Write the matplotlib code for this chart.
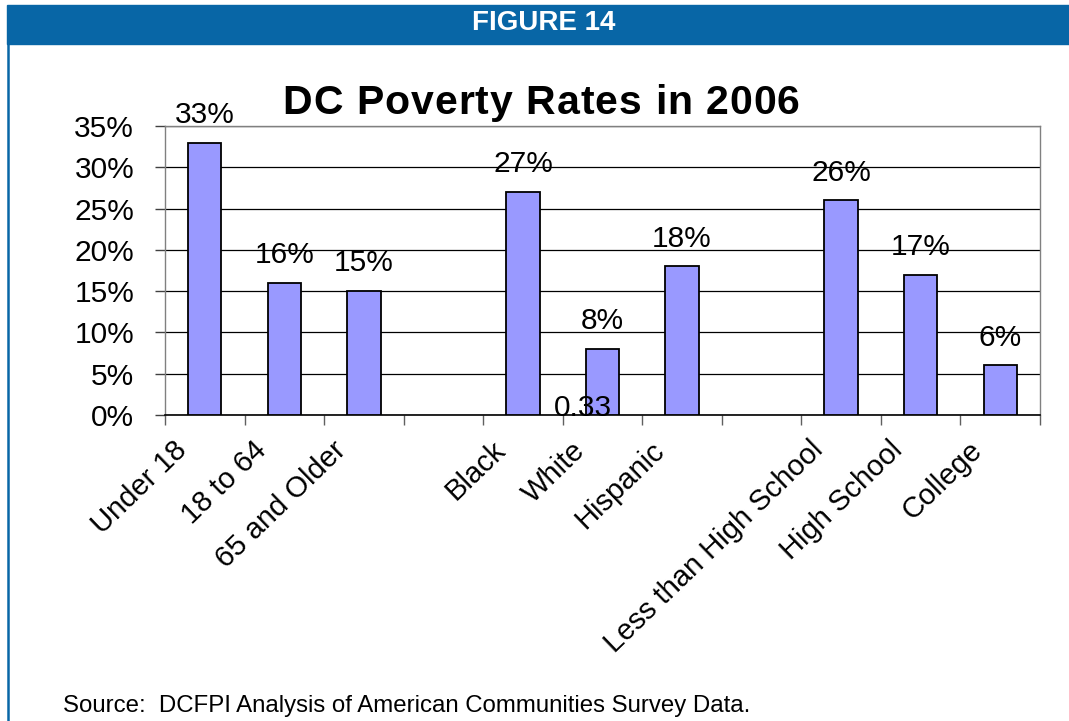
import numpy as np
import matplotlib
matplotlib.use("Agg")
import matplotlib.pyplot as plt
from matplotlib.patches import Rectangle
from matplotlib.lines import Line2D
from matplotlib.transforms import ScaledTranslation

plt.rcParams["font.family"] = ["Liberation Sans", "DejaVu Sans"]

# Poverty rates by group (gaps separate age, race and education groups)
categories = ["Under 18", "18 to 64", "65 and Older", "",
              "Black", "White", "Hispanic", "",
              "Less than High School", "High School", "College"]
rates = [0.33, 0.16, 0.15, np.nan, 0.27, 0.08, 0.18, np.nan, 0.26, 0.17, 0.06]
rate_labels = ["33%", "16%", "15%", "", "27%", "8%", "18%", "", "26%", "17%", "6%"]
y_ticks = [0.0, 0.05, 0.10, 0.15, 0.20, 0.25, 0.30, 0.35]
y_tick_labels = ["0%", "5%", "10%", "15%", "20%", "25%", "30%", "35%"]
stray_label = "0.33"

header_text = "FIGURE 14"
title_text = "DC Poverty Rates in 2006"
source_text = "Source:  DCFPI Analysis of American Communities Survey Data."

W, H = 1069, 721
BLUE = "#0866A6"
BAR = "#9999FF"
FS = 21.5

fig = plt.figure(figsize=(W / 100, H / 100), dpi=100)
fig.patch.set_facecolor("white")

# Header band and frame
fig.patches.append(Rectangle((7 / W, 1 - 44 / H), 1 - 7 / W, 39 / H,
                             transform=fig.transFigure, color=BLUE, zorder=0))
fig.lines.append(Line2D([7.5 / W, 7.5 / W], [0, 1 - 44 / H],
                        transform=fig.transFigure, color=BLUE, lw=1.8))
fig.text(544 / W, 1 - 23 / H, header_text, color="white", fontsize=20,
         fontweight="bold", ha="center", va="center")

# Plot area
ax = fig.add_axes([165 / W, 1 - 415 / H, 875 / W, 289 / H])
x = np.arange(len(categories))
ax.bar(x, rates, width=0.42, color=BAR, edgecolor="black", linewidth=1.3, zorder=3)
ax.set_xlim(-0.5, len(categories) - 0.5)
ax.set_ylim(0, 0.35)

ax.set_yticks(y_ticks)
ax.set_yticklabels(y_tick_labels, fontsize=FS)
ax.yaxis.grid(True, color="black", lw=0.9)
ax.set_axisbelow(True)
ax.tick_params(axis="y", length=7.2, width=1, color="#404040", pad=15)

ax.set_xticks(np.arange(-0.5, len(categories), 1.0))
ax.set_xticklabels([])
ax.tick_params(axis="x", length=7, width=1, color="#606060")

for side in ("top", "right", "left"):
    ax.spines[side].set_color("#808080")
    ax.spines[side].set_linewidth(1.0)
ax.spines["bottom"].set_color("black")
ax.spines["bottom"].set_linewidth(1.2)

# Value labels above bars
for xi, v, lab in zip(x, rates, rate_labels):
    if lab:
        ax.annotate(lab, (xi, v), xytext=(0, 20), textcoords="offset points",
                    ha="center", va="center", fontsize=FS, zorder=5,
                    annotation_clip=False)

ax.text(4.75, 0, stray_label, fontsize=FS, ha="center", va="center", zorder=6,
        transform=ax.transData + ScaledTranslation(0, 0.07, fig.dpi_scale_trans))

# Rotated category labels
lab_tr = ax.get_xaxis_transform() + ScaledTranslation(-0.22, -0.31, fig.dpi_scale_trans)
for xi, cat in zip(x, categories):
    if cat:
        ax.text(xi, 0, cat, transform=lab_tr, rotation=44, rotation_mode="anchor",
                ha="right", va="center", fontsize=21)

# Letter-spaced bold title
renderer = fig.canvas.get_renderer()
title_kw = dict(fontsize=29.5, fontweight="bold")


def text_width(s):
    t = fig.text(0, 0, s, **title_kw)
    w = t.get_window_extent(renderer).width
    t.remove()
    return w


title_width = 517
bar_w = text_width("|")
base_w = text_width(title_text)
spacing = (title_width - base_w) / (len(title_text) - 1)
x0 = 541 - title_width / 2
for i, ch in enumerate(title_text):
    if ch == " ":
        continue
    offset = text_width(title_text[:i] + "|") - bar_w if i > 0 else 0
    fig.text((x0 + offset + i * spacing) / W, 1 - 114 / H, ch,
             ha="left", va="baseline", **title_kw)

fig.text(63 / W, 1 - 706 / H, source_text, fontsize=17.3, ha="left", va="center")

fig.savefig("out.png", dpi=100)
